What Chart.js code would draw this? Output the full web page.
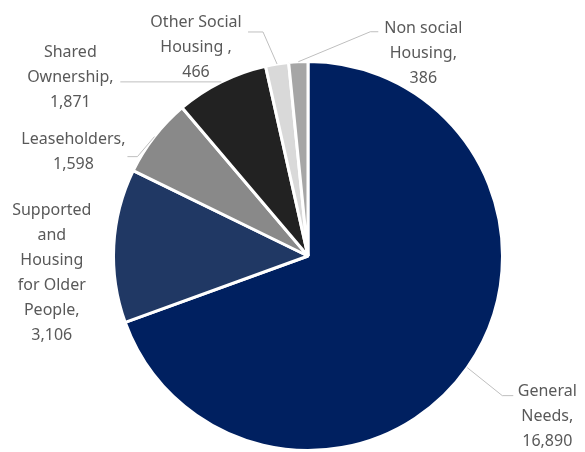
<!DOCTYPE html>
<html>
<head>
<meta charset="utf-8">
<script src="https://cdn.jsdelivr.net/npm/chart.js@4.4.1/dist/chart.umd.min.js"></script>
<style>
  html, body { margin: 0; padding: 0; background: #fff; }
  canvas { display: block; }
</style>
</head>
<body>
<canvas id="tenure" width="585" height="452"></canvas>
<script>
// tenure types (each entry is the label split into its lines)
const categories = [
  ['General', 'Needs'],
  ['Supported', 'and', 'Housing', 'for Older', 'People'],
  ['Leaseholders'],
  ['Shared', 'Ownership'],
  ['Other Social', 'Housing '],
  ['Non social', 'Housing']
];
const units = [16890, 3106, 1598, 1871, 466, 386];
const colours = ['#002060', '#203864', '#898989', '#222222', '#d9d9d9', '#a6a6a6'];

// where each label sits relative to the point where its slice meets the rim
// elbow/end = leader line bends, text = centre of the text block
const labelPos = [
  { elbow: [35, 28], end: [46, 28], text: [80, 49] },
  { elbow: null, end: null, text: [-62, 27] },
  { elbow: [-17, 20], end: [-27, 20], text: [-81, 15] },
  { elbow: null, end: [-101, 0], text: [-151, -4] },
  { elbow: [-14, -32], end: [-29, -32], text: [-81, -17] },
  { elbow: [72, -30], end: [80, -30], text: [125, -8] }
];

const LINE_H = 25;

const sliceLabels = {
  id: 'sliceLabels',
  afterDatasetsDraw(chart) {
    const ctx = chart.ctx;
    const arcs = chart.getDatasetMeta(0).data;
    ctx.save();
    arcs.forEach((arc, i) => {
      const p = arc.getProps(['x', 'y', 'startAngle', 'endAngle', 'outerRadius'], true);
      const mid = (p.startAngle + p.endAngle) / 2;
      const ex = p.x + Math.cos(mid) * p.outerRadius;
      const ey = p.y + Math.sin(mid) * p.outerRadius;
      const pos = labelPos[i];

      if (pos.end) {
        ctx.beginPath();
        ctx.strokeStyle = '#bfbfbf';
        ctx.lineWidth = 1;
        ctx.moveTo(ex, ey);
        if (pos.elbow) ctx.lineTo(ex + pos.elbow[0], ey + pos.elbow[1]);
        ctx.lineTo(ex + pos.end[0], ey + pos.end[1]);
        ctx.stroke();
      }

      const lines = categories[i].slice();
      lines[lines.length - 1] += ',';
      lines.push(units[i].toLocaleString('en-US'));

      ctx.font = '16px "Noto Sans", Roboto, sans-serif';
      ctx.fillStyle = '#595959';
      ctx.textAlign = 'center';
      ctx.textBaseline = 'middle';
      const cx = ex + pos.text[0];
      const top = ey + pos.text[1] - (lines.length - 1) * LINE_H / 2;
      lines.forEach((t, k) => ctx.fillText(t, cx, top + k * LINE_H));
    });
    ctx.restore();
  }
};

new Chart(document.getElementById('tenure'), {
  type: 'pie',
  data: {
    labels: categories,
    datasets: [{
      data: units,
      backgroundColor: colours,
      borderColor: '#ffffff',
      borderWidth: 3
    }]
  },
  options: {
    responsive: false,
    animation: false,
    layout: { padding: { left: 112, right: 81, top: 60, bottom: 0 } },
    plugins: {
      legend: { display: false },
      tooltip: { enabled: false }
    }
  },
  plugins: [sliceLabels]
});
</script>
</body>
</html>
